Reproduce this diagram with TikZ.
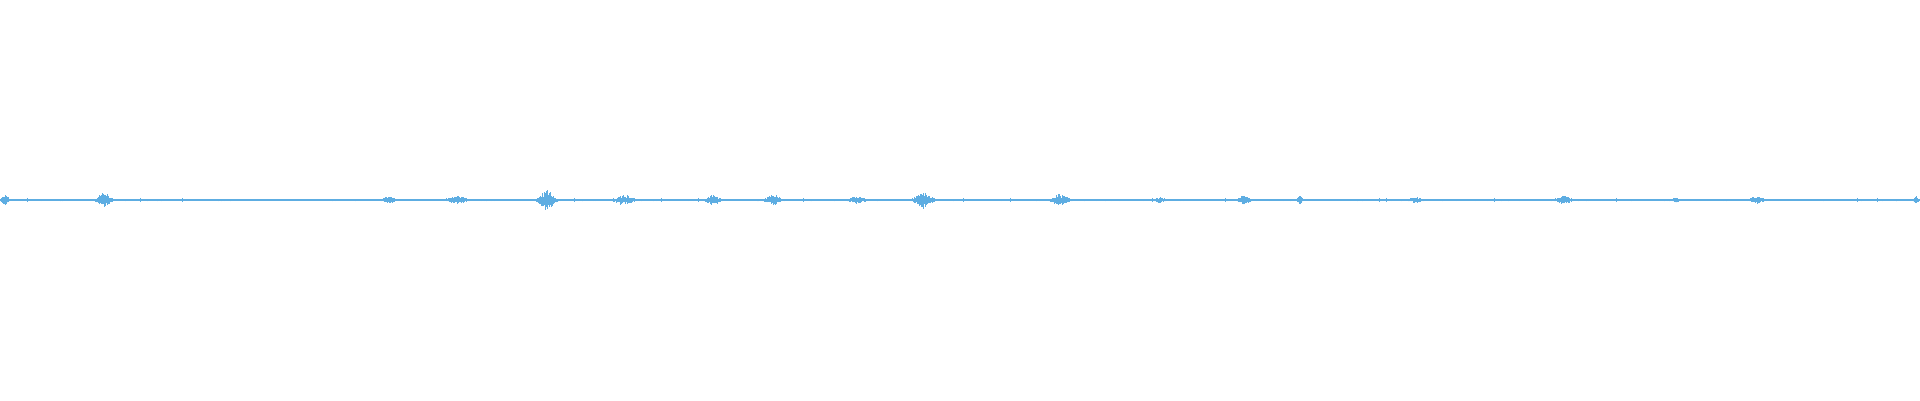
\documentclass[tikz,border=0pt]{standalone}
\definecolor{wave}{HTML}{5DADE2}
\begin{document}
\begin{tikzpicture}[x=1pt,y=1pt,
        wavestroke/.style={draw=wave, line width=0.9pt}
    ]
    \pgfmathsetseed{42}
    % frame
    \useasboundingbox (0,0) rectangle (1920,400);
    % base line
    \draw [wave, line width=1.2pt] (0,200) -- (1920,200);
    % bursts: centre / half width / amplitude
    \foreach \cx/\hw/\am in {5/6/5, 104/12/7, 389/10/3, 457/18/3.5, 547/14/10, 624/16/5,
        713/12/4.5, 773/13/5, 857/14/3.5, 923/15/8, 1060/14/6, 1160/9/2.5, 1244/10/4,
        1300/4/4, 1416/12/2.5, 1564/14/3.5, 1676/6/2, 1757/13/3, 1916/4/3}{
        \foreach \i in {-20,...,20}{
            \pgfmathsetmacro{\px}{\cx+\i*\hw/20}
            \pgfmathsetmacro{\env}{exp(-(\i*\i)/120)}
            \pgfmathsetmacro{\hi}{\am*\env*(0.3+0.7*rnd)+0.6}
            \pgfmathsetmacro{\lo}{\am*\env*(0.3+0.7*rnd)+0.6}
            \draw [wavestroke] (\px,200-\lo) -- (\px,200+\hi);
        }
    }
    % small noise ticks
    \foreach \k in {1,...,160}{
        \pgfmathsetmacro{\px}{1920*rnd}
        \pgfmathsetmacro{\hi}{0.8+0.8*rnd}
        \draw [wavestroke] (\px,200-\hi) -- (\px,200+\hi);
    }
\end{tikzpicture}
\end{document}
